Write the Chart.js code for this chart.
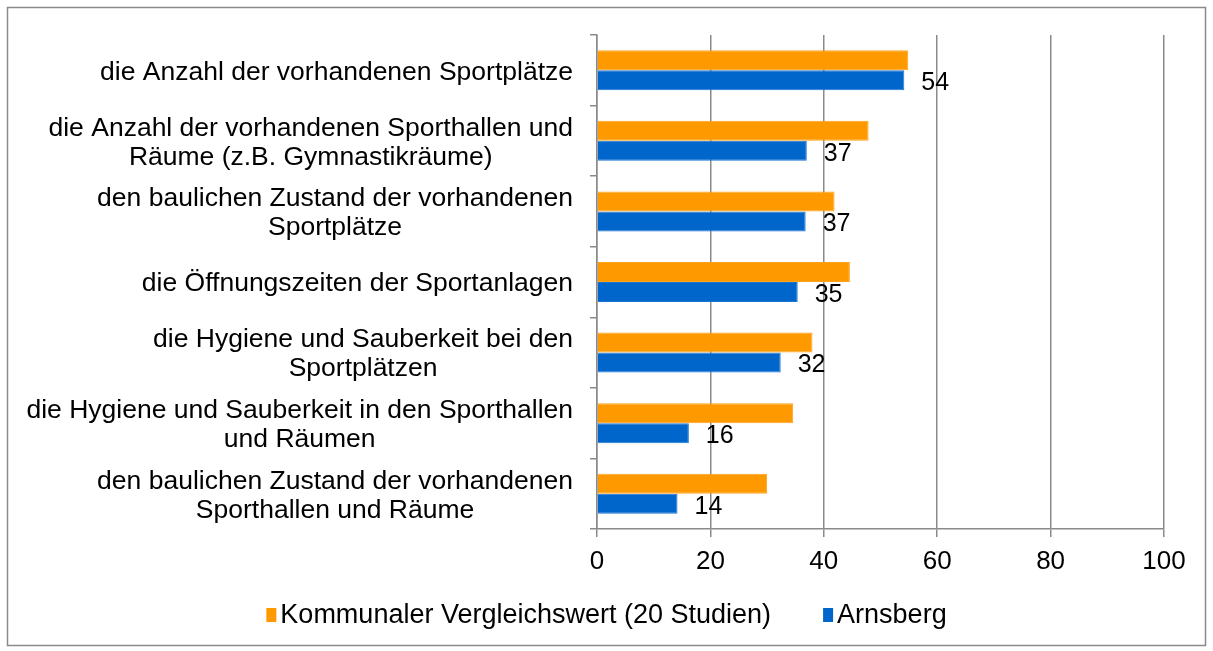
<!DOCTYPE html>
<html>
<head>
<meta charset="utf-8">
<script src="https://cdn.jsdelivr.net/npm/chart.js@4/dist/chart.umd.min.js"></script>
<style>
  html, body { margin: 0; padding: 0; background: #fff; }
  #wrap { width: 1213px; height: 651px; position: relative; }
</style>
</head>
<body>
<div id="wrap"><canvas id="myChart"></canvas></div>
<script>
const categories = [
    ['die Anzahl der vorhandenen Sportplätze'],
    ['die Anzahl der vorhandenen Sporthallen und', 'Räume (z.B. Gymnastikräume)'],
    ['den baulichen Zustand der vorhandenen', 'Sportplätze'],
    ['die Öffnungszeiten der Sportanlagen'],
    ['die Hygiene und Sauberkeit bei den', 'Sportplätzen'],
    ['die Hygiene und Sauberkeit in den Sporthallen', 'und Räumen'],
    ['den baulichen Zustand der vorhandenen', 'Sporthallen und Räume']
];
const vergleichswert = [54.9, 47.9, 41.9, 44.6, 38.0, 34.6, 30.0];
const arnsberg = [54.2, 37.0, 36.8, 35.4, 32.4, 16.2, 14.2];
const seriesNames = ['Kommunaler Vergleichswert (20 Studien)', 'Arnsberg'];
const seriesColors = ['#FF9900', '#0066CC'];
const xTicks = [0, 20, 40, 60, 80, 100];

const FONT = '"Liberation Sans", Arial, sans-serif';
const GRID = '#8a8a8a';

const decor = {
    id: 'decor',
    beforeDraw(c) {
        const ctx = c.ctx;
        ctx.save();
        ctx.fillStyle = '#fff';
        ctx.fillRect(0, 0, c.width, c.height);
        ctx.strokeStyle = GRID;
        ctx.lineWidth = 1.5;
        ctx.strokeRect(7.5, 7.5, 1198, 638);
        ctx.restore();
    },
    afterDraw(c) {
        const ctx = c.ctx;
        const y = c.scales.y;
        ctx.save();
        ctx.fillStyle = '#000';
        ctx.textBaseline = 'middle';
        ctx.textAlign = 'center';
        // category labels: block right aligned, lines centred
        ctx.font = '26.5px ' + FONT;
        categories.forEach((lines, i) => {
            const cy = y.getPixelForTick(i) + 2;
            const w = Math.max(...lines.map(l => ctx.measureText(l).width));
            const cx = 573 - w / 2;
            const lh = 29;
            lines.forEach((l, j) => {
                ctx.fillText(l, cx, cy + (j - (lines.length - 1) / 2) * lh);
            });
        });
        // value labels for Arnsberg
        ctx.font = '25px ' + FONT;
        ctx.textAlign = 'left';
        c.getDatasetMeta(1).data.forEach((bar, i) => {
            ctx.fillText(Math.round(arnsberg[i]), bar.x + 17, bar.y + 3);
        });
        // legend
        ctx.font = '27px ' + FONT;
        const boxW = 10, boxH = 14, gap = 4, itemGap = 52;
        const widths = seriesNames.map(n => boxW + gap + ctx.measureText(n).width);
        const total = widths.reduce((a, b) => a + b, 0) + itemGap;
        let lx = (c.width - total) / 2;
        const ly = 615;
        seriesNames.forEach((n, i) => {
            ctx.fillStyle = seriesColors[i];
            ctx.fillRect(lx, ly - boxH / 2, boxW, boxH);
            ctx.fillStyle = '#000';
            ctx.fillText(n, lx + boxW + gap, ly + 1);
            lx += widths[i] + itemGap;
        });
        ctx.restore();
    }
};

new Chart(document.getElementById('myChart'), {
    type: 'bar',
    data: {
        labels: categories,
        datasets: [
            { label: seriesNames[0], data: vergleichswert, backgroundColor: seriesColors[0], borderColor: '#FFA31A', borderWidth: 1 },
            { label: seriesNames[1], data: arnsberg, backgroundColor: seriesColors[1], borderColor: '#1A75D1', borderWidth: 1 }
        ]
    },
    options: {
        indexAxis: 'y',
        responsive: true,
        maintainAspectRatio: false,
        animation: false,
        categoryPercentage: 0.567,
        barPercentage: 1,
        layout: { padding: { left: 0, right: 49, top: 35, bottom: 0 } },
        plugins: {
            legend: { display: false },
            tooltip: { enabled: false }
        },
        scales: {
            x: {
                min: 0,
                max: 100,
                afterBuildTicks: s => { s.ticks = xTicks.map(v => ({ value: v })); },
                afterFit: s => { s.height = 122; },
                ticks: { color: '#000', font: { family: FONT, size: 26 }, padding: 9 },
                grid: { color: GRID, lineWidth: 1.5, tickLength: 8 },
                border: { color: GRID, width: 1.5 }
            },
            y: {
                afterFit: s => { s.width = 597; },
                ticks: { display: false },
                grid: { drawOnChartArea: false, color: GRID, lineWidth: 1.5, tickLength: 7, offset: true },
                border: { color: GRID, width: 1.5 }
            }
        }
    },
    plugins: [decor]
});
</script>
</body>
</html>
